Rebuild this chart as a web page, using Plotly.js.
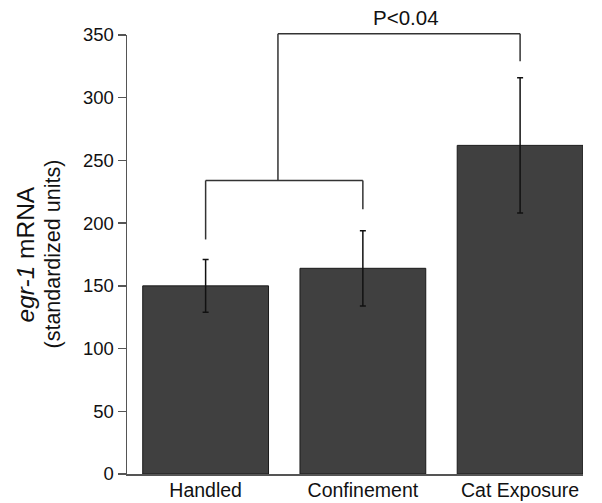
<!DOCTYPE html>
<html>
<head>
<meta charset="utf-8">
<script src="https://cdn.plot.ly/plotly-3.0.1.min.js"></script>
<style>html,body{margin:0;padding:0;background:#fff;}#chart{width:602px;height:503px;}</style>
</head>
<body>
<div id="chart"></div>
<script>
const categories = ['Handled', 'Confinement', 'Cat Exposure'];
const values = [150, 164, 262];
const errPlus = [21, 30, 54];
const errMinus = [21, 30, 54];
const yTicks = [0, 50, 100, 150, 200, 250, 300, 350];
const sigLabel = 'P<0.04';

// bracket geometry (category index / value units)
const lowBracket = {x0: 0, x1: 1, y: 234, leftEnd: 187, rightEnd: 211, stem: 0.46};
const topBracket = {x0: 0.46, x1: 2, y: 351, rightEnd: 329};
const labelPos = {x: 1.275, y: 364};

const xRange = [-0.5, 2.4];
const yRange = [0, 350];
const px = c => (c - xRange[0]) / (xRange[1] - xRange[0]);
const py = v => (v - yRange[0]) / (yRange[1] - yRange[0]);

const lineStyle = {color: '#333', width: 1.5};
function seg(x0, y0, x1, y1) {
  return {type: 'line', xref: 'paper', yref: 'paper',
    x0: px(x0), y0: py(y0), x1: px(x1), y1: py(y1), line: lineStyle, layer: 'above'};
}

const shapes = [
  seg(lowBracket.x0, lowBracket.y, lowBracket.x1, lowBracket.y),
  seg(lowBracket.x0, lowBracket.y, lowBracket.x0, lowBracket.leftEnd),
  seg(lowBracket.x1, lowBracket.y, lowBracket.x1, lowBracket.rightEnd),
  seg(lowBracket.stem, lowBracket.y, topBracket.x0, topBracket.y),
  seg(topBracket.x0, topBracket.y, topBracket.x1, topBracket.y),
  seg(topBracket.x1, topBracket.y, topBracket.x1, topBracket.rightEnd)
];

const trace = {
  type: 'bar',
  x: categories.map((c, i) => i),
  y: values,
  marker: {color: '#404040', line: {color: '#1a1a1a', width: 1}},
  error_y: {type: 'data', array: errPlus, arrayminus: errMinus, visible: true,
    color: '#111', thickness: 1.5, width: 3},
  hoverinfo: 'skip'
};

const font = 'Liberation Sans, Arial, Helvetica, sans-serif';

const layout = {
  width: 602, height: 503,
  margin: {l: 127, r: 19, t: 35, b: 29},
  paper_bgcolor: '#fff', plot_bgcolor: '#fff',
  font: {family: font, color: '#111'},
  bargap: 0.2,
  showlegend: false,
  xaxis: {
    range: xRange, tickmode: 'array', tickvals: [0, 1, 2], ticktext: categories,
    showline: true, linecolor: '#555', linewidth: 1.5, ticks: '', showgrid: false, zeroline: false,
    ticklabelstandoff: -2,
    tickfont: {size: 19.5, family: font, color: '#111'}, fixedrange: true
  },
  yaxis: {
    range: yRange, tickmode: 'array', tickvals: yTicks, ticktext: yTicks.map(String),
    showline: true, linecolor: '#555', linewidth: 1.5, ticks: 'outside', ticklen: 8,
    tickwidth: 1.5, tickcolor: '#555', showgrid: false, zeroline: false,
    tickfont: {size: 18.5, family: font, color: '#111'}, fixedrange: true
  },
  shapes: shapes,
  annotations: [
    {text: sigLabel, xref: 'paper', yref: 'paper', x: px(labelPos.x), y: py(labelPos.y), showarrow: false,
      xanchor: 'center', yanchor: 'middle', font: {size: 20.5, family: font, color: '#111'}},
    {text: '<i>egr-1</i> mRNA', xref: 'paper', yref: 'paper', x: (25 - 127) / 456, y: 0.5,
      textangle: -90, showarrow: false, xanchor: 'center', yanchor: 'middle',
      font: {size: 24.5, family: font, color: '#111'}},
    {text: '(standardized units)', xref: 'paper', yref: 'paper', x: (52 - 127) / 456, y: 0.5,
      textangle: -90, showarrow: false, xanchor: 'center', yanchor: 'middle',
      font: {size: 21.5, family: font, color: '#111'}}
  ]
};

Plotly.newPlot('chart', [trace], layout, {displayModeBar: false, staticPlot: true});
</script>
</body>
</html>
